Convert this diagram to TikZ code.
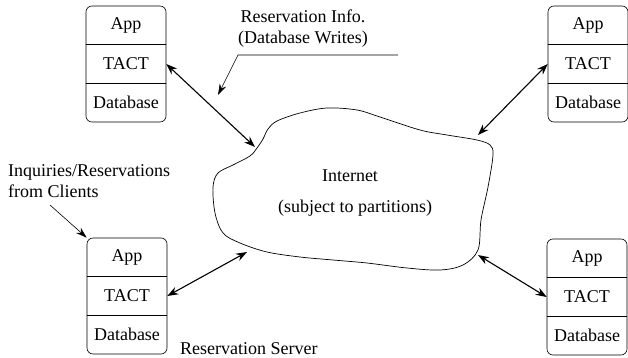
\documentclass[tikz,border=0pt]{standalone}
\usepackage{fontspec}
\setmainfont{Liberation Serif}
\usetikzlibrary{arrows.meta}
\tikzset{
 srv/.style={draw, rounded corners=6pt, minimum width=80pt, minimum height=116pt, line width=0.6pt, inner sep=0pt},
 lbl/.style={font=\fontsize{18}{21}\selectfont, inner sep=0pt},
 dbl/.style={{Stealth[length=11pt,width=8pt]}-{Stealth[length=11pt,width=8pt]}, line width=1.1pt},
 lead/.style={-{Stealth[length=11pt,width=7pt]}, line width=0.6pt},
 cloud/.style={line width=0.7pt}
}
\newcommand\mkserver[3]{%
 \node[srv] (#1) at (#2,#3) {};
 \draw[line width=0.6pt] ([yshift=19.3pt]#1.west) -- ([yshift=19.3pt]#1.east);
 \draw[line width=0.6pt] ([yshift=-19.3pt]#1.west) -- ([yshift=-19.3pt]#1.east);
 \node[lbl] (#1app) at ([yshift=38.6pt]#1.center) {App};
 \node[lbl] (#1tact) at (#1.center) {TACT};
 \node[lbl] (#1db) at ([yshift=-38.6pt]#1.center) {Database};
}
\begin{document}
\begin{tikzpicture}[x=1pt,y=-1pt]
\useasboundingbox (0,0) rectangle (628,358);
\mkserver{b1}{126}{64}
\mkserver{b2}{588}{64}
\mkserver{b3}{127}{296}
\mkserver{b4}{587}{297}
% cloud
\draw[cloud] plot[smooth cycle, tension=0.55] coordinates {
(257,148) (263,139) (268,129) (277,121) (300,113) (327,108) (357,110) (380,117)
(420,130) (447,135) (477,140) (490,145) (493,155) (488,187) (481,220) (478,250)
(463,265) (440,270) (407,268) (367,263) (333,260) (300,257) (267,252) (240,243)
(223,233) (215,213) (213,187) (218,173) (233,165) (250,156)};
\node[lbl] (inet) at (350,176) {Internet};
\node[lbl] (part) at (355,208) {(subject to partitions)};
% connectors
\coordinate (c1) at (255,147);
\coordinate (c2) at (478,135);
\coordinate (c3) at (247,252);
\coordinate (c4) at (478,255);
\draw[dbl] (b1.east) -- (c1);
\draw[dbl] (b2.west) -- (c2);
\draw[dbl] (b3.east) -- (c3);
\draw[dbl] (b4.west) -- (c4);
% labels
\node[lbl, align=center] (resinfo) at (303,29) {Reservation Info.\\(Database Writes)};
\coordinate (r1) at (398,55);
\coordinate (r2) at (238,55);
\coordinate (r3) at (218,95);
\draw[lead] (r1) -- (r2) -- (r3);
\node[lbl, align=left, anchor=west] (inq) at (8,181) {Inquiries/Reservations\\from Clients};
\coordinate (q1) at (50,205);
\draw[lead] (q1) -- (b3.north west);
\node[lbl, anchor=west] (rs) at (180,349) {Reservation Server};
\end{tikzpicture}
\end{document}
